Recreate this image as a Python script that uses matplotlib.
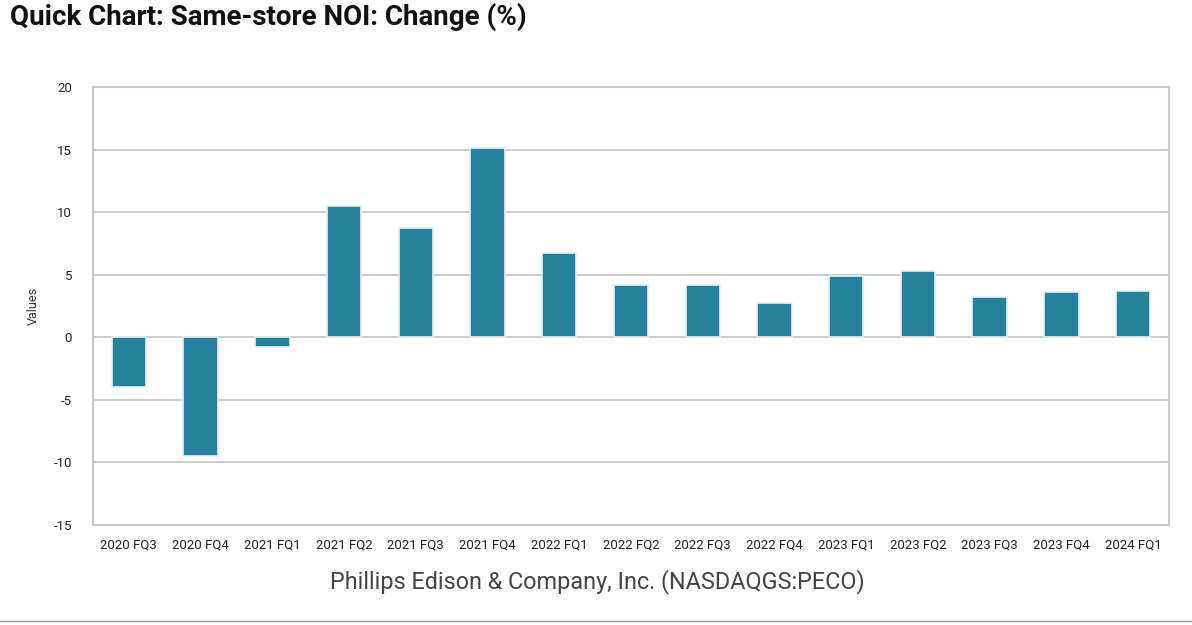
import matplotlib
matplotlib.use("Agg")
import matplotlib.pyplot as plt

quarters = ["2020 FQ3", "2020 FQ4", "2021 FQ1", "2021 FQ2", "2021 FQ3", "2021 FQ4",
            "2022 FQ1", "2022 FQ2", "2022 FQ3", "2022 FQ4", "2023 FQ1", "2023 FQ2",
            "2023 FQ3", "2023 FQ4", "2024 FQ1"]
noi_change = [-4.0, -9.5, -0.8, 10.5, 8.7, 15.1, 6.7, 4.2, 4.2, 2.75, 4.9, 5.3, 3.2, 3.6, 3.7]
yticks = [-15, -10, -5, 0, 5, 10, 15, 20]

bar_color = "#25829a"
grid_color = "#c8c8c8"

plt.rcParams['font.family'] = ['Roboto', 'DejaVu Sans']

fig = plt.figure(figsize=(11.92, 6.25), dpi=100)
ax = fig.add_axes([93 / 1192, 1 - 525 / 625, (1169 - 93) / 1192, (525 - 87) / 625])

ax.bar(range(len(quarters)), noi_change, width=0.48, color=bar_color,
       edgecolor="#e6f0f3", linewidth=1.2, zorder=3)

ax.set_ylim(-15, 20)
ax.set_xlim(-0.5, len(quarters) - 0.5)
ax.set_yticks(yticks)
ax.set_yticklabels([str(t) for t in yticks], fontsize=9.5, color="#222222")
ax.set_xticks(range(len(quarters)))
ax.set_xticklabels(quarters, fontsize=9.5, color="#222222")
ax.tick_params(length=0)
ax.tick_params(axis='x', pad=10)
ax.tick_params(axis='y', pad=15)
ax.yaxis.grid(True, color=grid_color, linewidth=1.3, zorder=1)
for sp in ax.spines.values():
    sp.set_color(grid_color)
    sp.set_linewidth(1.5)
ax.set_ylabel("Values", fontsize=9, color="#333333", labelpad=10)

fig.text(10 / 1192, 1 - 17 / 625, "Quick Chart: Same-store NOI: Change (%)",
         fontsize=20, fontweight='bold', color="#111111", va='center', ha='left')
fig.text(597 / 1192, 1 - 582 / 625, "Phillips Edison & Company, Inc. (NASDAQGS:PECO)",
         fontsize=16.8, color="#444444", va='center', ha='center')
fig.add_artist(plt.Line2D([0, 1], [1 - 621 / 625, 1 - 621 / 625], color="#999999",
                          linewidth=1, transform=fig.transFigure))

plt.savefig("out.png", dpi=100)
